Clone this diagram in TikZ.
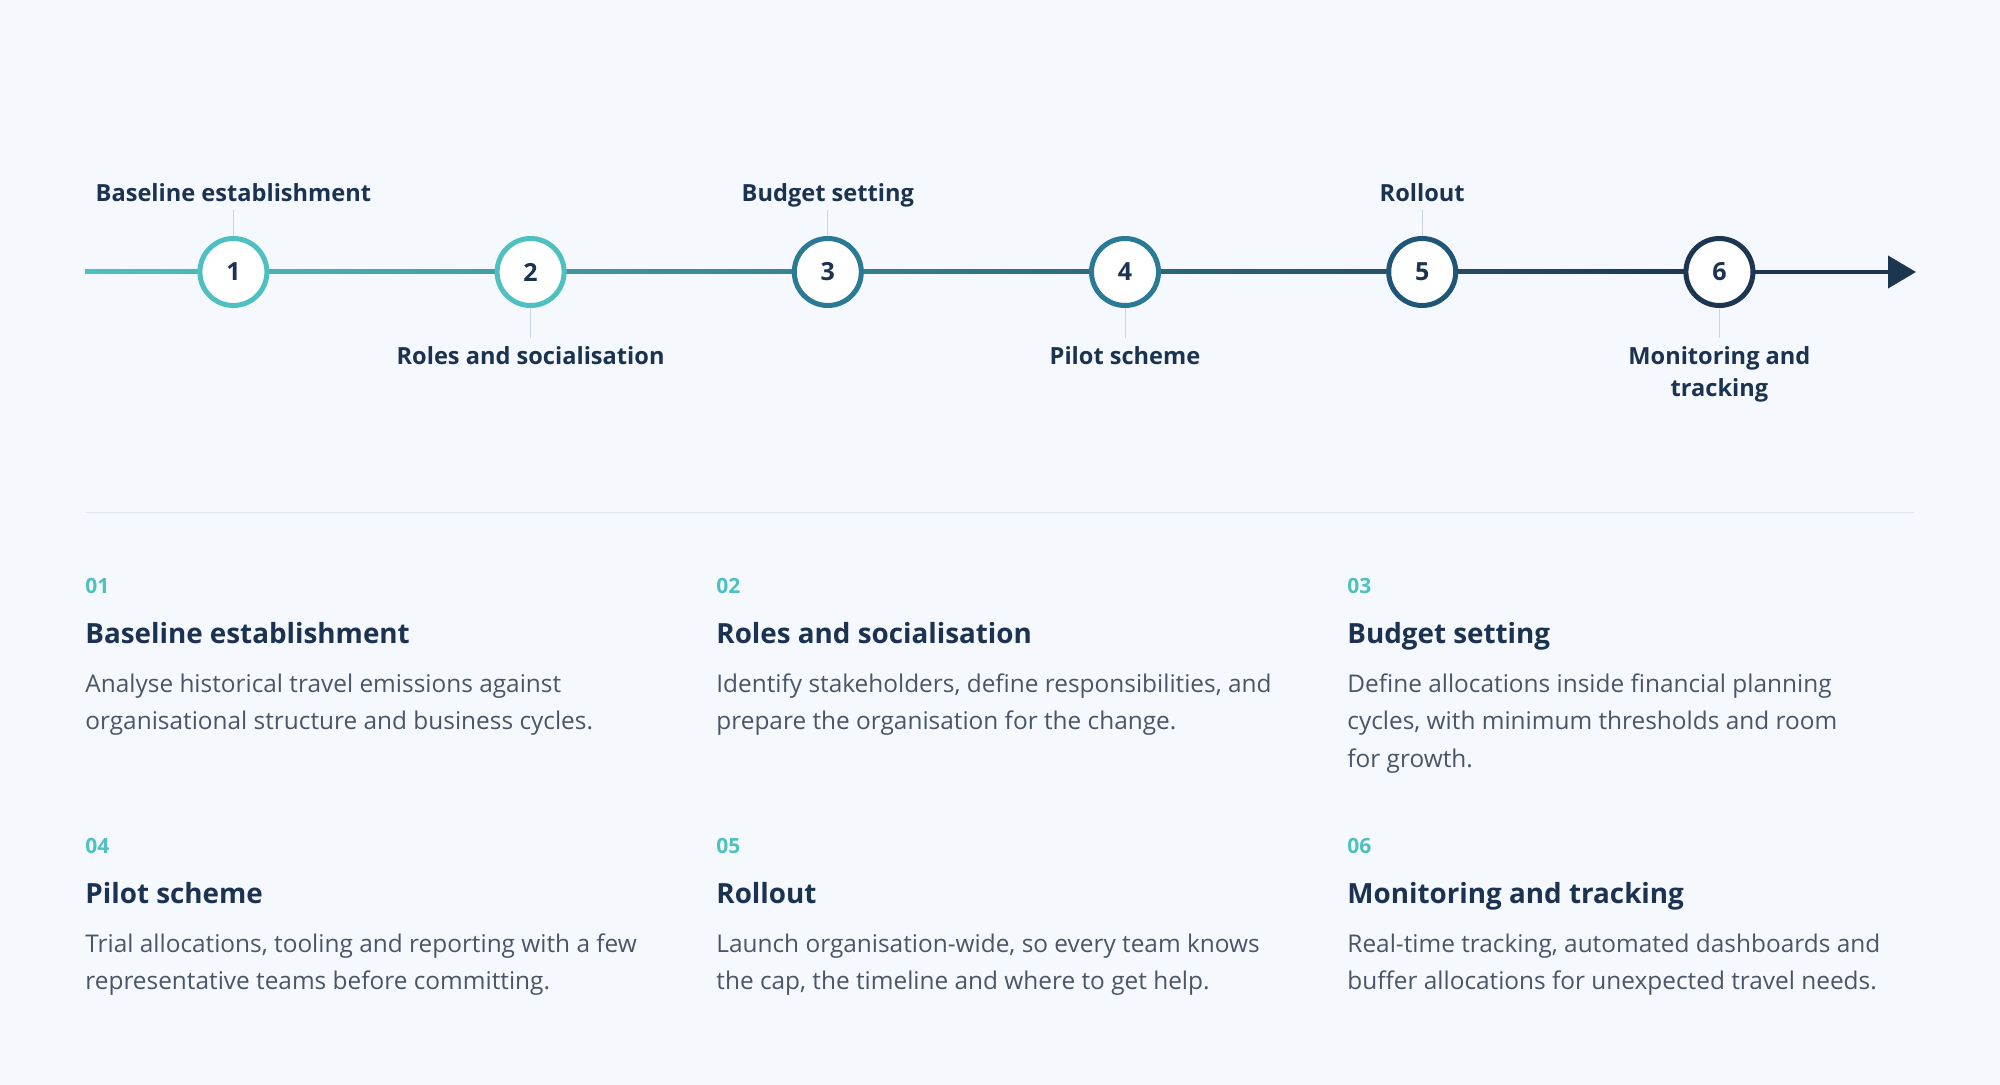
\documentclass[tikz,border=0pt]{standalone}
\usepackage{fontspec}
\setmainfont{Open Sans}
\usetikzlibrary{positioning,arrows.meta}
\definecolor{paper}{HTML}{F5F9FD}
\definecolor{ink}{HTML}{1B3350}
\definecolor{bodyink}{HTML}{4A5568}
\definecolor{tealA}{HTML}{4FC0C2}
\definecolor{tealB}{HTML}{2B7A95}
\definecolor{navyC}{HTML}{1F5677}
\definecolor{navyD}{HTML}{1C3550}
\definecolor{rule}{HTML}{E2E8F0}
\definecolor{tick}{HTML}{CBD5E0}
\tikzset{
  stepdot/.style={circle, draw=#1, line width=2.5pt, fill=white, minimum size=33.5pt,
    inner sep=0pt, text=ink, font=\fontsize{12.5}{14}\selectfont\bfseries},
  toplab/.style={anchor=south, inner xsep=0pt, inner ysep=4pt, text depth=0pt, text=ink,
    font=\fontsize{11.8}{16}\selectfont\bfseries},
  botlab/.style={anchor=north, inner xsep=0pt, inner ysep=4pt, text=ink, align=center,
    font=\fontsize{11.8}{16}\selectfont\bfseries},
  ticks/.style={draw=tick, line width=0.5pt},
  numlab/.style={anchor=base west, inner sep=0pt, text=tealA, font=\fontsize{10.5}{12}\selectfont\bfseries},
  headlab/.style={anchor=base west, inner sep=0pt, text=ink, font=\fontsize{13.9}{16}\selectfont\bfseries},
  bodylab/.style={anchor=base west, inner sep=0pt, text=bodyink, align=left,
    font=\fontsize{12.2}{18.8}\selectfont}
}
\begin{document}
\begin{tikzpicture}[x=0.5pt,y=-0.5pt]
\fill [paper] (0,0) rectangle (2000,1085);
\useasboundingbox (0,0) rectangle (2000,1085);
% timeline
\coordinate (start) at (85,272);
\coordinate (tip) at (1916,272);
\shade [left color=tealA, right color=navyD] (85,270) rectangle (1720,274);
\node [stepdot=tealA] (c1) at (233.4,272) {1};
\node [stepdot=tealA] (c2) at (530.6,272) {2};
\node [stepdot=tealB] (c3) at (827.8,272) {3};
\node [stepdot=tealB] (c4) at (1125,272) {4};
\node [stepdot=navyC] (c5) at (1422.2,272) {5};
\node [stepdot=navyD] (c6) at (1719.4,272) {6};
\draw [navyD, line width=2pt, -{Triangle[length=14pt,width=16pt]}] (c6) -- (tip);
% phase labels
\node [toplab] (t1) at (233.4,210) {Baseline establishment};
\node [botlab] (b2) at (530.6,338) {Roles and socialisation};
\node [toplab] (t3) at (827.8,210) {Budget setting};
\node [botlab] (b4) at (1125,338) {Pilot scheme};
\node [toplab] (t5) at (1422.2,210) {Rollout};
\node [botlab] (b6) at (1719.4,338) {Monitoring and\\tracking};
\draw [ticks] (c1) -- (t1);
\draw [ticks] (c2) -- (b2);
\draw [ticks] (c3) -- (t3);
\draw [ticks] (c4) -- (b4);
\draw [ticks] (c5) -- (t5);
\draw [ticks] (c6) -- (b6);
\draw [rule, line width=0.5pt] (85,512) -- (1914,512);
% cards (body nodes sit on their last baseline)
\node [numlab] (n1) at (85,593) {01};
\node [headlab] (h1) at (85,643) {Baseline establishment};
\node [bodylab] (d1) at (85,729.6) {Analyse historical travel emissions against\\organisational structure and business cycles.};
\node [numlab] (n2) at (716,593) {02};
\node [headlab] (h2) at (716,643) {Roles and socialisation};
\node [bodylab] (d2) at (716,729.6) {Identify stakeholders, define responsibilities, and\\prepare the organisation for the change.};
\node [numlab] (n3) at (1347,593) {03};
\node [headlab] (h3) at (1347,643) {Budget setting};
\node [bodylab] (d3) at (1347,767.2) {Define allocations inside financial planning\\cycles, with minimum thresholds and room\\for growth.};
\node [numlab] (n4) at (85,853) {04};
\node [headlab] (h4) at (85,903) {Pilot scheme};
\node [bodylab] (d4) at (85,989.6) {Trial allocations, tooling and reporting with a few\\representative teams before committing.};
\node [numlab] (n5) at (716,853) {05};
\node [headlab] (h5) at (716,903) {Rollout};
\node [bodylab] (d5) at (716,989.6) {Launch organisation-wide, so every team knows\\the cap, the timeline and where to get help.};
\node [numlab] (n6) at (1347,853) {06};
\node [headlab] (h6) at (1347,903) {Monitoring and tracking};
\node [bodylab] (d6) at (1347,989.6) {Real-time tracking, automated dashboards and\\buffer allocations for unexpected travel needs.};
\end{tikzpicture}
\end{document}
